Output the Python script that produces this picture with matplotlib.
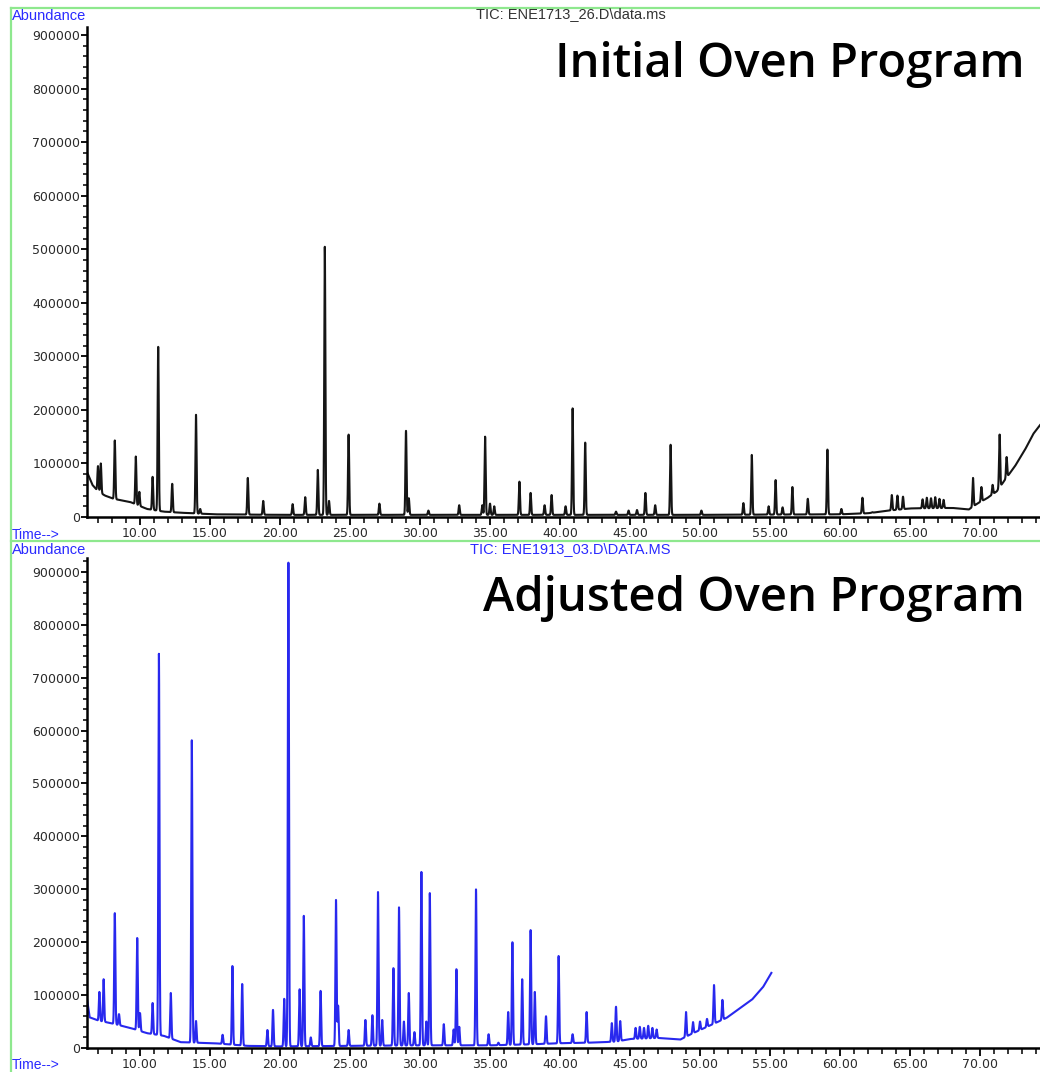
import numpy as np
import matplotlib
matplotlib.use("Agg")
import matplotlib.pyplot as plt
from matplotlib.lines import Line2D
from matplotlib.ticker import MultipleLocator, FuncFormatter

# ---------------- data ----------------
# Initial oven program: baseline knots (time, abundance)
init_base_t = [6.2, 6.6, 7.0, 7.5, 8.1, 9.3, 10.5, 11.7, 12.9, 15.3, 20.0, 30.0, 40.0,
               50.0, 60.0, 62.0, 63.5, 65.0, 68.0, 69.2, 69.8, 70.5, 71.2, 71.8, 72.5,
               73.2, 73.8, 74.3]
init_base_v = [85000, 60000, 48000, 40000, 34000, 28000, 15000, 10000, 8000, 5000, 4000,
               4000, 4000, 4000, 5000, 7000, 12000, 16000, 17000, 14000, 25000, 35000,
               48000, 70000, 95000, 125000, 155000, 172000]
# Initial oven program: peaks (retention time, apex abundance)
init_peak_t = [7.0, 7.2, 8.2, 9.7, 9.95, 10.9, 11.3, 12.3, 14.0, 14.3, 17.7, 18.8, 20.9,
               21.8, 22.7, 23.2, 23.5, 24.9, 27.1, 29.0, 29.2, 30.6, 32.8, 34.45, 34.65,
               35.0, 35.3, 37.1, 37.9, 38.9, 39.4, 40.4, 40.9, 41.8, 44.0, 44.9, 45.5,
               46.1, 46.8, 47.9, 50.1, 53.1, 53.7, 54.9, 55.4, 55.9, 56.6, 57.7, 59.1,
               60.1, 61.6, 62.3, 63.7, 64.1, 64.5, 65.9, 66.2, 66.5, 66.8, 67.1, 67.4,
               69.5, 70.1, 70.9, 71.4, 71.9]
init_peak_h = [95000, 100000, 143000, 113000, 47000, 75000, 318000, 62000, 191000, 15000,
               73000, 30000, 24000, 37000, 88000, 505000, 30000, 154000, 25000, 161000,
               35000, 12000, 22000, 22000, 150000, 25000, 20000, 66000, 45000, 22000,
               41000, 20000, 203000, 139000, 10000, 12000, 13000, 45000, 22000, 135000,
               12000, 26000, 116000, 20000, 69000, 18000, 56000, 34000, 126000, 15000,
               36000, 9000, 41000, 40000, 38000, 33000, 36000, 35000, 37000, 34000,
               32000, 73000, 56000, 60000, 154000, 112000]

# Adjusted oven program: baseline knots
adj_base_t = [6.2, 6.4, 7.0, 7.9, 9.3, 10.5, 11.7, 12.9, 14.0, 15.3, 17.7, 20.0, 25.0,
              30.0, 35.0, 38.0, 40.0, 42.0, 44.0, 45.0, 47.0, 48.6, 49.5, 50.5, 51.9,
              52.9, 53.7, 54.5, 55.1]
adj_base_v = [96000, 58000, 52000, 47000, 38000, 28000, 23000, 11000, 10000, 9000, 4000,
              3000, 4000, 5000, 5000, 7000, 9000, 10000, 12000, 17000, 19000, 16000,
              28000, 40000, 57000, 76000, 91000, 115000, 142000]
# Adjusted oven program: peaks
adj_peak_t = [7.1, 7.4, 8.2, 8.5, 9.8, 10.0, 10.9, 11.35, 12.2, 13.7, 14.0, 15.9, 16.6,
              17.3, 19.1, 19.5, 20.3, 20.6, 21.4, 21.7, 22.2, 22.9, 24.0, 24.15, 24.9,
              26.1, 26.6, 27.0, 27.3, 28.1, 28.5, 28.85, 29.2, 29.6, 30.1, 30.45, 30.7,
              31.7, 32.4, 32.6, 32.8, 34.0, 34.9, 35.6, 36.3, 36.6, 37.3, 37.9, 38.2,
              39.0, 39.9, 40.9, 41.9, 43.7, 44.0, 44.3, 45.4, 45.7, 46.0, 46.3, 46.6,
              46.9, 49.0, 49.5, 50.0, 50.5, 51.0, 51.6]
adj_peak_h = [106000, 130000, 255000, 64000, 208000, 66000, 85000, 745000, 104000, 582000,
              51000, 25000, 155000, 121000, 34000, 72000, 93000, 918000, 111000, 250000,
              20000, 108000, 280000, 80000, 34000, 53000, 62000, 295000, 53000, 151000,
              266000, 50000, 104000, 30000, 333000, 50000, 293000, 45000, 35000, 149000,
              40000, 300000, 26000, 10000, 68000, 200000, 130000, 223000, 106000, 60000,
              174000, 26000, 68000, 47000, 78000, 51000, 38000, 40000, 38000, 42000,
              38000, 35000, 68000, 49000, 50000, 55000, 119000, 91000]

x_ticks = [10, 15, 20, 25, 30, 35, 40, 45, 50, 55, 60, 65, 70]
titles = ["Initial Oven Program", "Adjusted Oven Program"]
file_labels = ["TIC: ENE1713_26.D\\data.ms", "TIC: ENE1913_03.D\\DATA.MS"]

# ---------------- figure ----------------
W, H = 1040, 1072
fig = plt.figure(figsize=(W / 100, H / 100), dpi=100)


def fx(px):
    return px / W


def fy(py):
    return 1 - py / H


SIG = 0.04
X0 = 10 - 53 / 14.0
X1 = X0 + 953 / 14.0


def chromatogram(bt, bv, pt, ph, tend):
    t = np.arange(X0, tend, 0.004)
    base = np.interp(t, bt, bv)
    y = base.copy()
    for ti, hi in zip(pt, ph):
        amp = hi - np.interp(ti, bt, bv)
        y += amp * np.exp(-0.5 * ((t - ti) / SIG) ** 2)
    return t, y


green = "#8ee88e"
blue_txt = "#2a2aff"
tick_col = "#2a2a2a"

panels = [
    dict(top=27, bottom=517, ymax=915000, color="#151515",
         data=(init_base_t, init_base_v, init_peak_t, init_peak_h, 74.3),
         title_y=65, file_col="#333333", file_x=571, file_y=14, abund_y=16, time_y=535),
    dict(top=558, bottom=1048, ymax=926000, color="#2828ee",
         data=(adj_base_t, adj_base_v, adj_peak_t, adj_peak_h, 55.1),
         title_y=599, file_col=blue_txt, file_x=570, file_y=549, abund_y=550, time_y=1065),
]

for i, p in enumerate(panels):
    ax = fig.add_axes([fx(87), fy(p["bottom"]), fx(1040) - fx(87),
                       (p["bottom"] - p["top"]) / H])
    t, y = chromatogram(*p["data"])
    ax.plot(t, y, color=p["color"], lw=1.5, solid_joinstyle="round")
    ax.set_xlim(X0, X1)
    ax.set_ylim(0, p["ymax"])
    for s in ["top", "right"]:
        ax.spines[s].set_visible(False)
    for s in ["left", "bottom"]:
        ax.spines[s].set_linewidth(1.8)
        ax.spines[s].set_color("black")
    ax.set_xticks(x_ticks)
    ax.xaxis.set_minor_locator(MultipleLocator(1))
    ax.xaxis.set_major_formatter(FuncFormatter(lambda v, pos: f"{v:.2f}"))
    ax.yaxis.set_major_locator(MultipleLocator(100000))
    ax.yaxis.set_minor_locator(MultipleLocator(20000))
    ax.yaxis.set_major_formatter(FuncFormatter(lambda v, pos: f"{int(round(v))}"))
    ax.tick_params(axis="x", which="major", direction="out", length=6, width=1.3,
                   labelsize=9, labelcolor=tick_col, pad=1)
    ax.tick_params(axis="x", which="minor", direction="out", length=4, width=1.1)
    ax.tick_params(axis="y", which="major", direction="out", length=4, width=1.3,
                   labelsize=9, labelcolor=tick_col, pad=1)
    ax.tick_params(axis="y", which="minor", direction="out", length=3, width=1.1)
    ax.set_facecolor("none")

    fig.text(fx(1025), fy(p["title_y"]), titles[i], ha="right", va="center",
             fontsize=34, fontweight="semibold", family="Open Sans", color="black")
    fig.text(fx(p["file_x"]), fy(p["file_y"]), file_labels[i], ha="center", va="center",
             fontsize=10.5, color=p["file_col"], family="Liberation Sans")
    fig.text(fx(12), fy(p["abund_y"]), "Abundance", ha="left", va="center",
             fontsize=10.5, color=blue_txt, family="Liberation Sans")
    fig.text(fx(12), fy(p["time_y"]), "Time-->", ha="left", va="center",
             fontsize=10, color=blue_txt, family="Liberation Sans")

# green frame lines
for (xa, ya, xb, yb) in [(10.5, 8, 10.5, 1072), (10.5, 8, 1040, 8), (10.5, 541, 1040, 541)]:
    fig.add_artist(Line2D([fx(xa), fx(xb)], [fy(ya), fy(yb)], color=green, lw=1.6,
                          transform=fig.transFigure))

fig.savefig("out.png", dpi=100, facecolor="white")
